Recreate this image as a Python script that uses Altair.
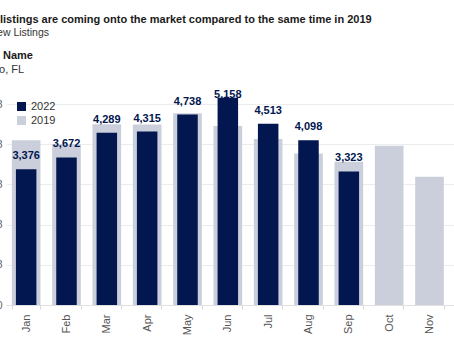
import altair as alt
import pandas as pd

months_domain = ["Jan", "Feb", "Mar", "Apr", "May", "Jun", "Jul", "Aug", "Sep", "Oct", "Nov", "Dec"]
months = ["Jan", "Feb", "Mar", "Apr", "May", "Jun", "Jul", "Aug", "Sep", "Oct", "Nov"]
v2022 = [3376, 3672, 4289, 4315, 4738, 5158, 4513, 4098, 3323, None, None]
v2019 = [4100, 4000, 4500, 4495, 4770, 4455, 4130, 3770, 3565, 3965, 3190]

NAVY = "#02164f"
GRAY = "#cbcfdb"
FONT = "Liberation Sans"

d19 = pd.DataFrame({"month": months, "value": v2019, "series": "2019"})
d22 = pd.DataFrame({"month": months, "value": v2022, "series": "2022"}).dropna()

xscale = alt.Scale(domain=months_domain, range=[0, 484], paddingInner=0.29, paddingOuter=0.145)
yscale = alt.Scale(domain=[0, 5500], nice=False)
cscale = alt.Scale(domain=["2022", "2019"], range=[NAVY, GRAY])

xenc = alt.X("month:N", scale=xscale, sort=months_domain, title=None,
             axis=alt.Axis(labelAngle=-90, labelAlign="right", labelBaseline="middle",
                           labelPadding=5, labelFontSize=11, labelColor="#555", labelFont=FONT,
                           tickBand="extent", ticks=True, tickSize=4, tickColor="#d8d8d8",
                           domainColor="#e0e0e0", grid=False))
yenc = alt.Y("value:Q", scale=yscale, title=None,
             axis=alt.Axis(values=[0, 1000, 2000, 3000, 4000, 5000], format=",",
                           gridColor="#ececec", domain=False, ticks=False, labelPadding=4,
                           labelFontSize=11, labelColor="#666", labelFont=FONT))

legend = alt.Legend(title=None, orient="none", legendX=10, legendY=17, padding=0,
                    symbolType="square", symbolSize=81, symbolStrokeWidth=0,
                    labelFontSize=11, labelColor="#333", labelFont=FONT,
                    labelOffset=4, rowPadding=2)

bars19 = alt.Chart(d19).mark_bar().encode(
    x=xenc, y=yenc,
    color=alt.Color("series:N", scale=cscale, legend=legend),
)
bars22 = alt.Chart(d22).mark_bar(width=20.5).encode(
    x=alt.X("month:N", scale=xscale, sort=months_domain),
    y=alt.Y("value:Q", scale=yscale),
    color=alt.Color("series:N", scale=cscale, legend=legend),
)
labels = alt.Chart(d22).transform_calculate(
    ly="min(datum.value, 4900)"
).mark_text(dy=-13, fontSize=11, fontWeight="bold", color=NAVY, font=FONT,
            baseline="middle", align="center").encode(
    x=alt.X("month:N", scale=xscale, sort=months_domain),
    y=alt.Y("ly:Q", scale=yscale),
    text=alt.Text("value:Q", format=","),
)

hdr = pd.DataFrame({"t": [0]})
def txt(s, x, y, bold=False, color="#333", size=11):
    return alt.Chart(hdr).mark_text(
        text=s, align="left", baseline="middle", fontSize=size, font=FONT,
        fontWeight="bold" if bold else "normal", color=color
    ).encode(x=alt.value(x), y=alt.value(y))

title = txt("listings are coming onto the market compared to the same time in 2019", -6, 20 - 84, True, "#1a1a1a", 11)
subtitle = txt("New Listings", -6 - 10.5, 33 - 84, False, "#333", 10.5)
name = txt("Name", -3, 56 - 84, True, "#1a1a1a", 11)
region = txt("Orlando, FL", -6 - 34, 70 - 84, False, "#333", 11)

chart = alt.layer(bars19, bars22, labels, title, subtitle, name, region).properties(
    width=448, height=221,
    autosize=alt.AutoSizeParams(type="none"),
    padding={"left": 6, "top": 84, "right": 0, "bottom": 36},
).configure_view(stroke=None)

chart.save("out.html", embed_options={"renderer": "svg", "actions": False})
